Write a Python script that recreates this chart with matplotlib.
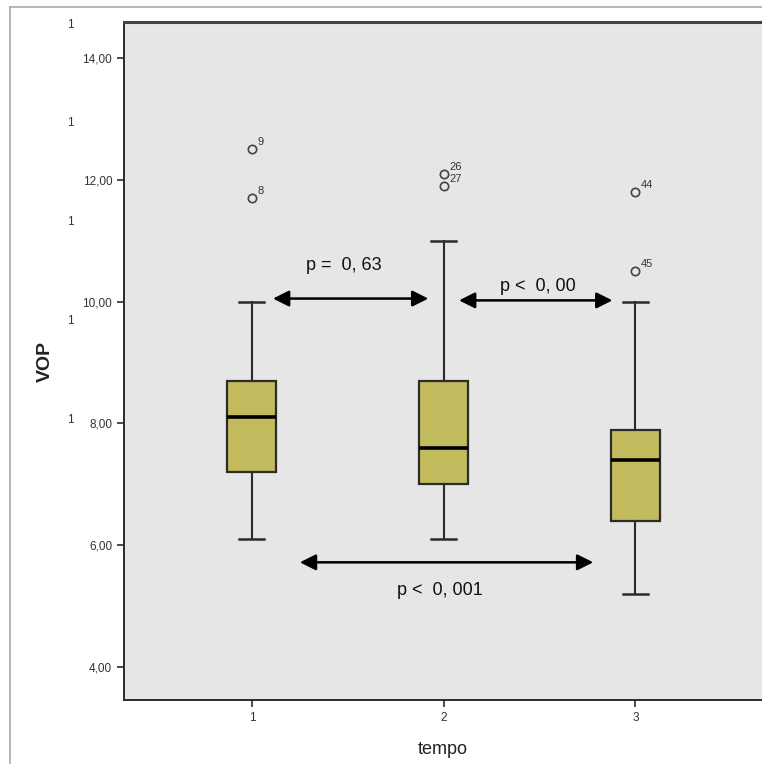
#!/usr/bin/env python3

import matplotlib
matplotlib.use('Agg')
import matplotlib.pyplot as plt
from matplotlib.lines import Line2D

# Box summary per tempo
TEMPOS = [1, 2, 3]
WHISKER_LOW = [6.1, 6.1, 5.2]
Q1 = [7.2, 7.0, 6.4]
MEDIAN = [8.1, 7.6, 7.4]
Q3 = [8.7, 8.7, 7.9]
WHISKER_HIGH = [10.0, 11.0, 10.0]

OUTLIER_VALUES = [[12.5, 11.7], [12.1, 11.9], [11.8, 10.5]]
OUTLIER_IDS = [['9', '8'], ['26', '27'], ['44', '45']]

YTICKS = [4, 6, 8, 10, 12, 14]
YTICK_LABELS = ['4,00', '6,00', '8,00', '10,00', '12,00', '14,00']

# pairwise comparisons: (from x, to x, y level, label, label x, label y)
ARROWS = [
    (1.11, 1.92, 10.05, 'p =  0, 63', 1.48, 10.6),
    (2.08, 2.88, 10.02, 'p <  0, 00', 2.49, 10.25),
    (1.25, 2.78, 5.72, 'p <  0, 001', 1.98, 5.25),
]

BOX_COLOR = '#c2bb5e'
EDGE = '#2b2b2b'

plt.rcParams['font.family'] = ['Liberation Sans', 'DejaVu Sans']

fig = plt.figure(figsize=(7.62, 7.64), dpi=100)
ax = fig.add_axes([124 / 762, 1 - 700 / 764, 1 - 124 / 762, (700 - 22) / 764])
ax.set_facecolor('#e6e6e6')

stats = []
for i in range(len(TEMPOS)):
    stats.append({
        'whislo': WHISKER_LOW[i], 'q1': Q1[i], 'med': MEDIAN[i],
        'q3': Q3[i], 'whishi': WHISKER_HIGH[i], 'fliers': [],
    })

ax.bxp(stats, positions=TEMPOS, widths=0.255, patch_artist=True,
       showfliers=False, capwidths=0.13,
       boxprops=dict(facecolor=BOX_COLOR, edgecolor=EDGE, linewidth=1.6),
       medianprops=dict(color='black', linewidth=2.6),
       whiskerprops=dict(color=EDGE, linewidth=1.5),
       capprops=dict(color=EDGE, linewidth=1.8))

for pos, vals, ids in zip(TEMPOS, OUTLIER_VALUES, OUTLIER_IDS):
    ax.plot([pos] * len(vals), vals, 'o', mfc='none', mec='#444444', ms=6, mew=1.2)
    for v, label in zip(vals, ids):
        ax.annotate(label, (pos, v), xytext=(4, 3), textcoords='offset points',
                    fontsize=8, color='#333333')

for x0, x1, y, label, tx, ty in ARROWS:
    ax.annotate('', xy=(x1, y), xytext=(x0, y),
                arrowprops=dict(arrowstyle='<|-|>', color='black', lw=1.8,
                                mutation_scale=24, shrinkA=0, shrinkB=0))
    ax.text(tx, ty, label, fontsize=13, ha='center', va='center', color='#111111')

ax.set_xlim(0.333, 3.66)
ax.set_ylim(3.46, 14.59)
ax.set_xticks(TEMPOS)
ax.set_xticklabels([str(t) for t in TEMPOS], fontsize=8.5, color='#333333')
ax.set_yticks(YTICKS)
ax.set_yticklabels(YTICK_LABELS, fontsize=8.5, color='#333333')
ax.tick_params(axis='both', length=5, width=1.2, color=EDGE)

ax.set_ylabel('VOP', fontsize=14, fontweight='bold', color='#222222')
ax.yaxis.set_label_coords((54 - 124) / 638, 0.5)
ax.set_xlabel('tempo', fontsize=13, color='#222222')
ax.xaxis.set_label_coords(0.5, (700 - 741) / 678)

for side in ['left', 'bottom']:
    ax.spines[side].set_color(EDGE)
    ax.spines[side].set_linewidth(1.4)
ax.spines['top'].set_color('#444444')
ax.spines['top'].set_linewidth(2.2)
ax.spines['right'].set_visible(False)

# stray "1" marks down the left margin of the original scan
for ypx in [25, 123, 222, 321, 420]:
    fig.text(70 / 762, 1 - ypx / 764, '1', fontsize=8.5, color='#333333',
             ha='center', va='center')

# outer frame of the screenshot
fig.add_artist(Line2D([10 / 762, 10 / 762], [0, 1 - 7 / 764],
                      transform=fig.transFigure, color='#aaaaaa', lw=1.2))
fig.add_artist(Line2D([10 / 762, 1], [1 - 7 / 764, 1 - 7 / 764],
                      transform=fig.transFigure, color='#aaaaaa', lw=1.2))

fig.savefig('out.png', dpi=100)
